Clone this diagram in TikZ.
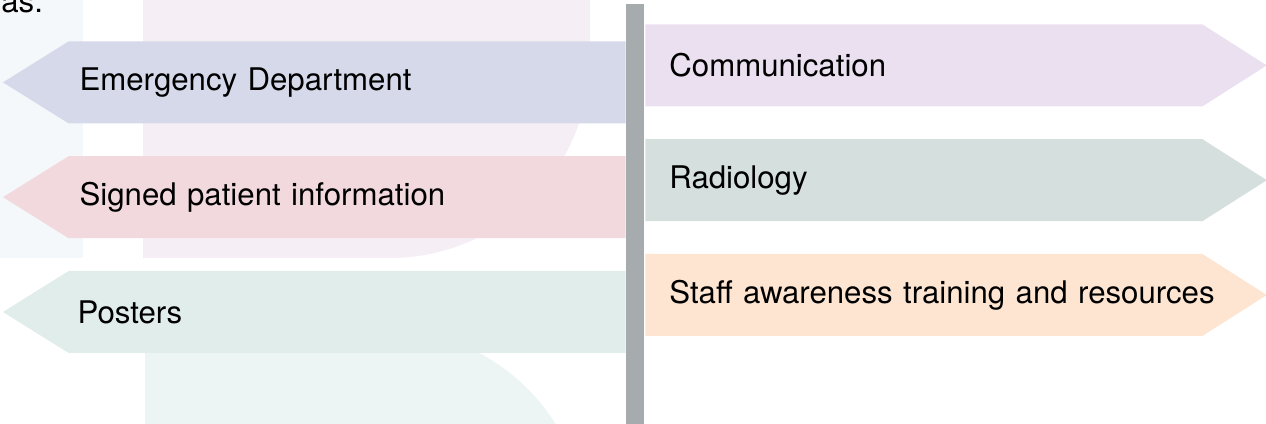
\documentclass[tikz,border=0pt]{standalone}
\usepackage{fontspec}
\setmainfont{TeX Gyre Heros}
\usetikzlibrary{positioning,shapes.symbols}
\definecolor{edblue}{HTML}{D5D9EA}
\definecolor{signpink}{HTML}{F2D9DE}
\definecolor{postgreen}{HTML}{E1EDEB}
\definecolor{commlilac}{HTML}{EBE0F0}
\definecolor{radgrey}{HTML}{D5DFDE}
\definecolor{staffpeach}{HTML}{FDE5D2}
\definecolor{polegrey}{HTML}{A6ABAE}
\definecolor{bgblue}{HTML}{F4F8FB}
\definecolor{bglilac}{HTML}{F5EFF5}
\definecolor{bgteal}{HTML}{ECF5F4}
\tikzset{
    signtext/.style={font=\fontsize{15.6bp}{18bp}\selectfont},
    signleft/.style={signal, signal to=west, signal pointer angle=64, fill=#1, minimum height=41bp, inner ysep=0pt, inner xsep=0pt, text width=278.5bp, align=left, signtext, execute at begin node={\hspace*{5.5bp}}},
    signright/.style={signal, signal to=east, signal pointer angle=65, fill=#1, minimum height=41bp, inner ysep=0pt, inner xsep=0pt, text width=278.5bp, align=left, signtext, execute at begin node={\hspace*{12bp}}},
    signpost/.style={fill=polegrey, minimum width=9bp, minimum height=210bp, inner sep=0pt}
}

\begin{document}
\begin{tikzpicture}[x=0.5bp, y=0.5bp, node distance=16bp]
    \useasboundingbox (0,0) rectangle (1266,424);
    % pale page shapes behind the signs
    \fill[bgblue] (0,166) rectangle (83,424);
    \fill[bglilac] (143,424) -- (590,424) -- (590,366) arc[start angle=0, end angle=-90, radius=200] -- (143,166) -- cycle;
    \fill[bgteal] (145,-110) -- (145,94) -- (386,94) arc[start angle=90, end angle=0, radius=200] -- cycle;
    \node[signtext, anchor=base west, inner sep=0pt] (lead) at (1,411) {as.};

    \node[signpost, anchor=south west] (pole) at (626,0) {};

    % left-hand signs
    \node[signleft=edblue, anchor=north east] (ed) at (626,383) {Emergency Department};
    \node[signleft=signpink, below=of ed] (info) {Signed patient information};
    \node[signleft=postgreen, below=of info, execute at begin node={\hspace*{-1bp}}] (posters) {Posters};

    % right-hand signs
    \node[signright=commlilac, anchor=north west] (comm) at (645,400) {Communication};
    \node[signright=radgrey, below=of comm] (radio) {Radiology};
    \node[signright=staffpeach, below=of radio] (staff) {\mbox{Staff awareness training and resources}};
\end{tikzpicture}
\end{document}
